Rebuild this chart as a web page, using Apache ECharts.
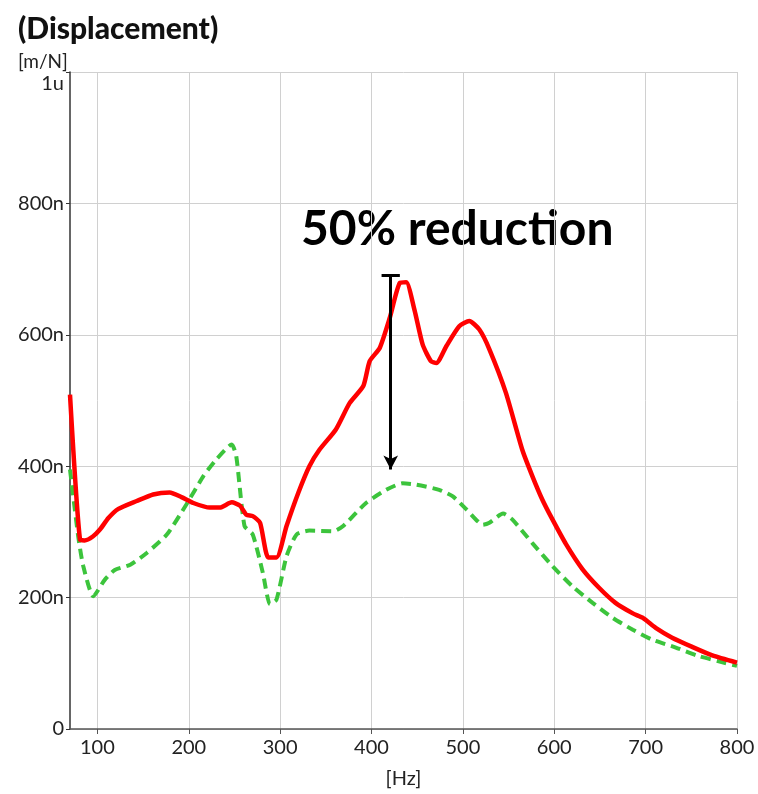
<!DOCTYPE html>
<html>
<head>
<meta charset="utf-8">
<script src="https://cdn.jsdelivr.net/npm/echarts@6/dist/echarts.min.js"></script>
<style>
html,body{margin:0;padding:0;background:#fff;}
#chart{width:758px;height:794px;}
</style>
</head>
<body>
<div id="chart"></div>
<script>
// Frequency [Hz] and displacement [n m/N]
const redData = [[70,509],[81,288],[86,287],[95,293],[103,304],[112,321],[123,335],[143,347],[161,357],[179,360],[192,353],[205,344],[223,337],[234,337],[247,345],[256,340],[263,326],[270,324],[278,314],[287,261],[296,261],[307,309],[320,360],[332,400],[343,425],[361,456],[376,496],[391,522],[398,560],[409,580],[420,626],[431,679],[438,680],[447,638],[456,585],[465,560],[471,557],[482,583],[496,613],[507,621],[518,608],[529,578],[547,512],[565,425],[576,385],[587,349],[598,319],[613,281],[631,243],[649,215],[667,192],[686,176],[697,169],[711,154],[729,139],[751,125],[773,112],[800,101]];
const greenData = [[70,395],[79,293],[84.5,248],[95.5,202],[108,227],[119,242],[136,250],[154,268],[176,296],[197.5,342],[216,385],[230,410],[247,433],[252,415],[261,309],[270,296],[281,238],[289,190],[296,197],[307,263],[318,296],[332,302],[358,301],[369,309],[394,344],[416,364],[434,374],[449,372],[474,364],[489,354],[504,334],[522,311],[529,314],[544,328],[554,319],[576,283],[598,248],[620,217],[642,192],[664,169],[686,151],[707,136],[733,124],[758,111],[780,103],[800,96]];
const xTicks = [100,200,300,400,500,600,700,800];
const arrowFrom = [421,690];
const arrowTo = [421,395];
const barFrom = [411,690];
const barTo = [431,690];
const titleText = '(Displacement)';
const unitText = '[m/N]';
const xName = '[Hz]';
const annotation = '50% reduction';

const chart = echarts.init(document.getElementById('chart'));
const font = 'Lato';
chart.setOption({
  animation:false,
  backgroundColor:'#fff',
  title:[
    {text:titleText,left:13,top:9,textStyle:{fontFamily:font,fontWeight:900,fontSize:30,color:'#111'}},
    {text:unitText,left:13,top:47,textStyle:{fontFamily:font,fontWeight:'normal',fontSize:19,color:'#222'}}
  ],
  grid:{left:70,right:21,top:72,bottom:64,containLabel:false},
  xAxis:{
    type:'value',min:70,max:800,
    name:xName,nameLocation:'middle',nameGap:40,
    nameTextStyle:{fontFamily:font,fontSize:20,color:'#222'},
    axisLine:{show:true,lineStyle:{color:'#555',width:1.5}},
    axisTick:{show:true,customValues:xTicks,length:5,lineStyle:{color:'#555'}},
    axisLabel:{customValues:xTicks,fontFamily:font,fontSize:20,color:'#222',margin:9},
    splitLine:{show:true,lineStyle:{color:'#d0d0d0',width:1}}
  },
  yAxis:{
    type:'value',min:0,max:1000,interval:200,
    axisLine:{show:true,lineStyle:{color:'#333',width:1.5}},
    axisTick:{show:true,length:4,lineStyle:{color:'#333'}},
    axisLabel:{fontFamily:font,fontSize:20,color:'#222',margin:6,
      formatter:v=> v===0?'0':(v===1000?'{top|1u}':v+'n'),
      rich:{top:{fontFamily:font,fontSize:20,color:'#222',padding:[24,0,0,0]}}},
    splitLine:{show:true,lineStyle:{color:'#d0d0d0',width:1}}
  },
  graphic:[
    {type:'text',left:301,top:206,style:{text:annotation,fontFamily:font,fontWeight:'bold',fontSize:48,fill:'#000'}}
  ],
  series:[
    {type:'line',data:greenData,showSymbol:false,smooth:0.2,
     lineStyle:{color:'#3cc43c',width:4,type:[10,6]},z:2},
    {type:'line',data:redData,showSymbol:false,smooth:0.2,
     lineStyle:{color:'#ff0000',width:4.5},z:3,
     markLine:{silent:true,symbol:['none','none'],label:{show:false},
       lineStyle:{color:'#000',width:3,type:'solid'},
       data:[
         [{coord:arrowFrom,symbol:'none'},{coord:arrowTo,symbol:'arrow',symbolSize:[11,14]}],
         [{coord:barFrom},{coord:barTo}]
       ]}}
  ]
});
</script>
</body>
</html>
